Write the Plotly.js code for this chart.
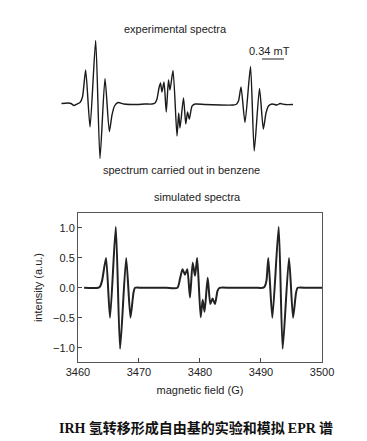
<!DOCTYPE html>
<html><head><meta charset="utf-8">
<script src="https://cdn.plot.ly/plotly-3.0.1.min.js"></script>
<style>html,body{margin:0;padding:0;background:#fff}</style>
</head><body><div id="chart" style="width:367px;height:441px"></div>
<script>
// Experimental spectrum (benzene), field in G (relative), intensity arbitrary
const expField = [3460.96,3461.96,3462.42,3462.88,3463.35,3463.81,3464.19,3464.68,3465.35,3466.22,3466.88,3467.65,3468.32,3468.73,3469.12,3469.65,3470.58,3472.27,3473.81,3474.88,
  3475.35,3475.65,3475.96,3476.19,3476.42,3476.73,3477.08,3477.42,3477.65,3478.12,3478.73,3478.99,3479.19,3479.73,3480.08,3480.35,3480.62,3481.04,3481.5,3483.04,3485.35,3487.35,
  3487.81,3488.19,3488.58,3489.19,3490.04,3490.61,3491.42,3492.01,3492.42,3492.81,3493.35,3494.12,3494.58,3495.35,3496.58];
const expInt = [0.01,0.02,0.01,-0.03,0,0.03,0.14,0.68,-0.46,1.27,-1.09,0.51,-0.55,-0.22,-0.04,0.03,0,-0.01,0,0,
  0.02,0.10,0.32,0.42,0.24,0.44,-0.16,0.48,0.28,0.67,-0.64,-0.18,-0.48,0.12,-0.40,-0.16,-0.30,-0.04,0,-0.01,-0.02,-0.02,
  -0.01,0.06,0.34,-0.37,0.75,-0.94,0.31,-0.50,-0.18,-0.04,0,-0.02,0.01,-0.01,-0.01];

// Simulated spectrum
const simField = [3461.0,3463.3,3463.6,3463.95,3464.6,3465.25,3466.2,3466.9,3467.9,3468.6,3469.1,3469.35,3470.5,
  3474.5,3476.3,3476.72,3477.13,3477.54,3477.92,3478.36,3478.8,3479.18,3479.54,3480.11,3480.44,3480.75,3481.26,3481.69,3482.05,3482.46,3482.87,3483.2,3485.0,
  3489.0,3490.3,3490.6,3490.9,3491.2,3491.86,3492.9,3493.55,3494.59,3495.25,3495.75,3496.0,3497.5,3500.0];
const simInt = [0,0,0.02,0.12,0.5,-0.5,1.02,-1.02,0.5,-0.5,-0.08,0,0,
  0,0,0.15,0.31,0.22,0.31,-0.16,0.42,0.2,0.5,-0.49,-0.2,-0.4,0.17,-0.27,-0.18,-0.27,-0.05,0,0,
  0,0,0.02,0.12,0.5,-0.5,1.02,-1.02,0.5,-0.5,-0.08,0,0,0];

const xTicks = [3460,3470,3480,3490,3500];
const yTicks = [-1.0,-0.5,0.0,0.5,1.0];

const font = "Liberation Sans, Arial, sans-serif";
const txt = {size:11, color:'#222'};
const traces = [
  {x: expField, y: expInt, xaxis:'x2', yaxis:'y2', mode:'lines',
   line:{color:'#1a1a1a', width:1.4, shape:'spline', smoothing:0.6}, hoverinfo:'skip'},
  {x: simField, y: simInt, xaxis:'x', yaxis:'y', mode:'lines',
   line:{color:'#222', width:2, shape:'spline', smoothing:0.6}, hoverinfo:'skip'}
];
const layout = {
  width:367, height:441, margin:{l:0,r:0,t:0,b:0},
  paper_bgcolor:'#fff', plot_bgcolor:'#fff', showlegend:false,
  font:{family:font, size:11, color:'#222'},
  xaxis:{domain:[0.2125,0.8774], range:[3460,3500], tickvals:xTicks, ticks:'inside', ticklen:4,
    showline:true, mirror:true, linecolor:'#555', linewidth:1, showgrid:false, zeroline:false,
    tickfont:txt, automargin:false,
    title:{text:'magnetic field (G)', font:txt, standoff:9}},
  yaxis:{domain:[0.1791,0.517], range:[-1.24,1.25], tickvals:yTicks, tickformat:'.1f', ticks:'inside', ticklen:4,
    showline:true, mirror:true, linecolor:'#555', linewidth:1, showgrid:false, zeroline:false,
    tickfont:txt, automargin:false,
    title:{text:'intensity (a.u.)', font:txt, standoff:8}},
  xaxis2:{domain:[0,1], range:[3451.5,3507.96], visible:false, anchor:'y2'},
  yaxis2:{domain:[0.5918,0.9546], range:[-1.52,1.68], visible:false, anchor:'x2'},
  shapes:[
    {type:'line', xref:'x2', yref:'paper', x0:3491.8, x1:3495.2, y0:(441-59)/441, y1:(441-59)/441,
     line:{color:'#222', width:1}}
  ],
  annotations:[
    {text:'experimental spectra', xref:'paper', yref:'paper', x:175/367, y:(441-29)/441, xanchor:'center', yanchor:'middle', showarrow:false, font:txt},
    {text:'0.34 mT', xref:'paper', yref:'paper', x:269/367, y:(441-51)/441, xanchor:'center', yanchor:'middle', showarrow:false, font:txt},
    {text:'spectrum carried out in benzene', xref:'paper', yref:'paper', x:181/367, y:(441-170)/441, xanchor:'center', yanchor:'middle', showarrow:false, font:txt},
    {text:'simulated spectra', xref:'paper', yref:'paper', x:197/367, y:(441-197)/441, xanchor:'center', yanchor:'middle', showarrow:false, font:txt},
    {text:'<b><span style="font-family:Liberation Serif">IRH</span> 氢转移形成自由基的实验和模拟 <span style="font-family:Liberation Serif">EPR</span> 谱</b>',
     xref:'paper', yref:'paper', x:196/367, y:(441-427)/441, xanchor:'center', yanchor:'middle', showarrow:false,
     font:{size:14, color:'#111', family:'Noto Sans CJK SC, sans-serif'}}
  ]
};
Plotly.newPlot('chart', traces, layout, {staticPlot:true, displayModeBar:false});
</script></body></html>
